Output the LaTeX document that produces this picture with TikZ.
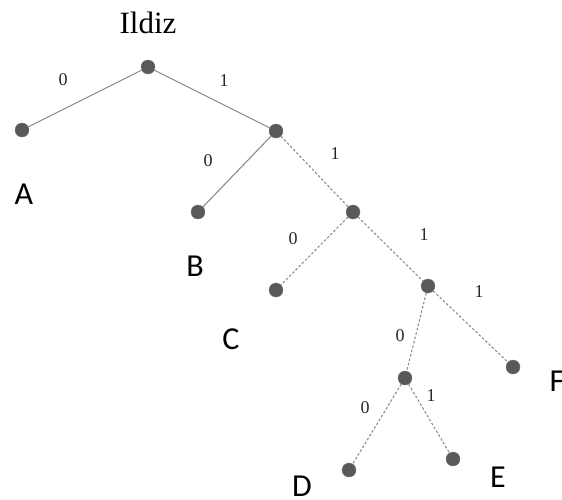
\documentclass[tikz,border=0pt]{standalone}
\usepackage{fontspec}
\newfontfamily\letterfont{Carlito}
\newfontfamily\serifx{Liberation Serif}
\begin{document}
\begin{tikzpicture}[x=1pt,y=-1pt,
  dot/.style={circle,fill=black!65,draw=black!55,line width=0.4pt,minimum size=14pt,inner sep=0pt},
  solidedge/.style={draw=black!45,line width=1.1pt},
  dashededge/.style={draw=black!45,line width=1.1pt,dash pattern=on 2.5pt off 2pt},
  bit/.style={font=\serifx\fontsize{18}{18}\selectfont,text=black!85},
  leaf/.style={font=\letterfont\fontsize{32}{32}\selectfont}]
\useasboundingbox (0,0) rectangle (562,499);
\node (title) at (148,23) {\serifx\fontsize{31}{31}\selectfont Ildiz};
\node[dot] (r) at (148,67) {};
\node[dot] (a) at (22,130) {};
\node[dot] (n1) at (276,131) {};
\node[dot] (b) at (198,212) {};
\node[dot] (n2) at (353,212) {};
\node[dot] (c) at (276,290) {};
\node[dot] (n3) at (428,286) {};
\node[dot] (f) at (513,367) {};
\node[dot] (n4) at (405,378) {};
\node[dot] (d) at (349,470) {};
\node[dot] (e) at (453,459) {};
\path[solidedge] (r) -- (a);
\path[solidedge] (r) -- (n1);
\path[solidedge] (n1) -- (b);
\path[dashededge] (n1) -- (n2);
\path[dashededge] (n2) -- (c);
\path[dashededge] (n2) -- (n3);
\path[dashededge] (n3) -- (f);
\path[dashededge] (n3) -- (n4);
\path[dashededge] (n4) -- (d);
\path[dashededge] (n4) -- (e);
\node[bit] (l1) at (63,80) {0};
\node[bit] (l2) at (224,81) {1};
\node[bit] (l3) at (208,161) {0};
\node[bit] (l4) at (335,154) {1};
\node[bit] (l5) at (293,239) {0};
\node[bit] (l6) at (424,235) {1};
\node[bit] (l7) at (479,292) {1};
\node[bit] (l8) at (400,336) {0};
\node[bit] (l9) at (365,408) {0};
\node[bit] (l10) at (431,396) {1};
\node[leaf] (ta) at (24,194) {A};
\node[leaf] (tb) at (195,266) {B};
\node[leaf] (tc) at (231,339) {C};
\node[leaf] (td) at (302,486) {D};
\node[leaf] (te) at (498,477) {E};
\node[leaf] (tf) at (557,381) {F};
\end{tikzpicture}
\end{document}
